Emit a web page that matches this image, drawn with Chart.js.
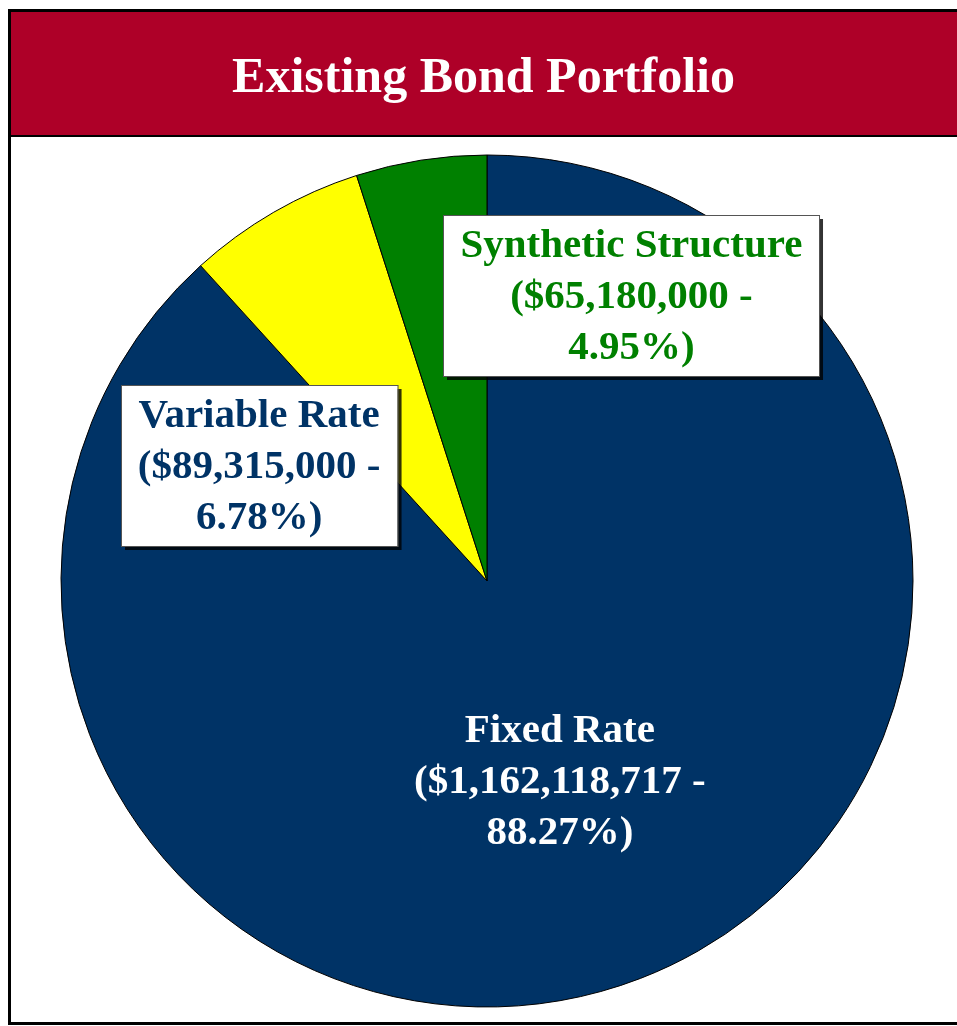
<!DOCTYPE html>
<html>
<head>
<meta charset="utf-8">
<script src="https://cdn.jsdelivr.net/npm/chart.js@4"></script>
<style>
  html, body { margin: 0; padding: 0; background: #fff; }
  body { width: 957px; height: 1026px; position: relative; overflow: hidden; }
  #frame {
    position: absolute; left: 8px; top: 9px; width: 960px; height: 1010px;
    border-left: 3px solid #000; border-top: 3px solid #000; border-bottom: 3px solid #000;
  }
  #title {
    position: absolute; left: 11px; top: 12px; width: 960px; height: 123px;
    background: #AE0028; border-bottom: 2px solid #000;
  }
  #titleText {
    position: absolute; left: -11px; width: 957px; top: 34px; text-align: center;
    color: #fff; font: bold 50px "Liberation Serif", serif; padding-left: 10px; box-sizing: border-box;
  }
  #chart { position: absolute; left: 11px; top: 137px; }
</style>
</head>
<body>
<div id="frame"></div>
<div id="title"><span id="titleText">Existing Bond Portfolio</span></div>
<canvas id="chart" width="946" height="884"></canvas>
<script>
const categories = ["Fixed Rate", "Variable Rate", "Synthetic Structure"];
const amounts = [1162118717, 89315000, 65180000];
const percentLabels = ["88.27%", "6.78%", "4.95%"];

const sliceColors = ["#003366", "#FFFF00", "#008000"];
const textColors = ["#FFFFFF", "#003366", "#008000"];
// label anchor, as a fraction of the pie radius from its centre; boxed or plain
const labelLayout = [
  { dx: 0.171, dy: 0.467, box: false },
  { dx: -0.535, dy: -0.272, box: true },
  { dx: 0.339, dy: -0.670, box: true },
];

const fmt = new Intl.NumberFormat("en-US");

const labelPlugin = {
  id: "sliceLabels",
  afterDatasetsDraw(chart) {
    const ctx = chart.ctx;
    const arcs = chart.getDatasetMeta(0).data;
    const cx = arcs[0].x, cy = arcs[0].y, r = arcs[0].outerRadius;
    const lineH = 51;
    ctx.save();
    ctx.font = 'bold 41px "Liberation Serif", serif';
    ctx.textAlign = "center";
    ctx.textBaseline = "middle";
    categories.forEach((name, i) => {
      const lines = [name, "($" + fmt.format(amounts[i]) + " -", percentLabels[i] + ")"];
      const L = labelLayout[i];
      const x = cx + L.dx * r, y = cy + L.dy * r;
      if (L.box) {
        const w = Math.max(...lines.map(t => ctx.measureText(t).width)) + 34;
        const h = lines.length * lineH + 8;
        const bx = Math.round(x - w / 2), by = Math.round(y - h / 2);
        ctx.fillStyle = "rgba(0,0,0,0.8)";
        ctx.fillRect(bx + 4, by + 4, w, h);
        ctx.fillStyle = "#fff";
        ctx.fillRect(bx, by, w, h);
        ctx.strokeStyle = "#555";
        ctx.lineWidth = 1;
        ctx.strokeRect(bx + 0.5, by + 0.5, w, h);
      }
      ctx.fillStyle = textColors[i];
      lines.forEach((t, k) => ctx.fillText(t, x, y + (k - 1) * lineH + 2));
    });
    ctx.restore();
  }
};

new Chart(document.getElementById("chart").getContext("2d"), {
  type: "pie",
  data: {
    labels: categories,
    datasets: [{
      data: amounts,
      backgroundColor: sliceColors,
      borderColor: "#000",
      borderWidth: 1,
      hoverOffset: 0,
    }],
  },
  options: {
    responsive: false,
    animation: false,
    radius: 426,
    layout: { padding: { left: 6, top: 4 } },
    plugins: { legend: { display: false }, tooltip: { enabled: false } },
  },
  plugins: [labelPlugin],
});
</script>
</body>
</html>
